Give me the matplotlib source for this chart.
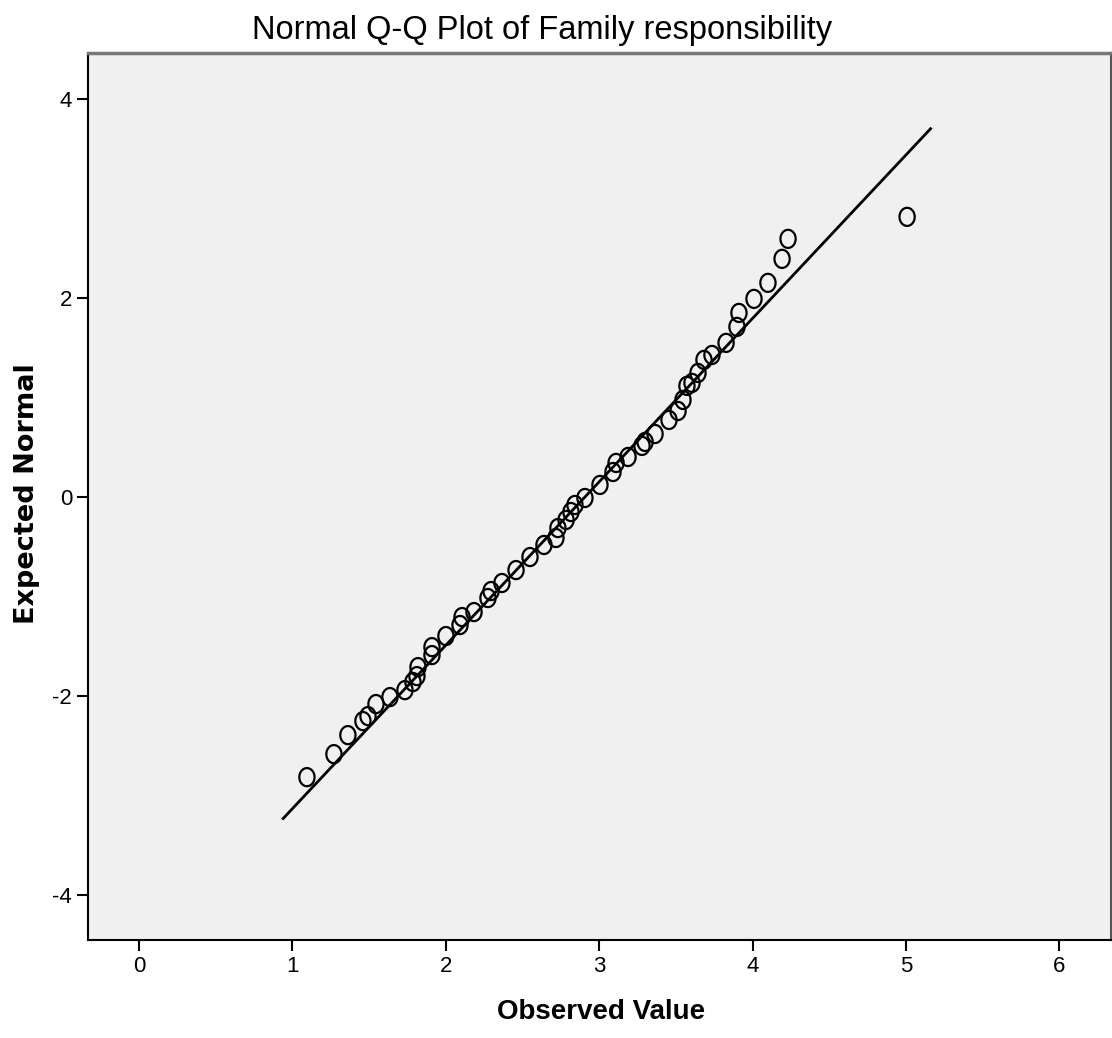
import numpy as np
import matplotlib
matplotlib.use('Agg')
import matplotlib.pyplot as plt
from matplotlib.path import Path
from matplotlib import font_manager

observed = [1.095, 1.271, 1.362, 1.460, 1.493, 1.545, 1.636, 1.734, 1.786, 1.812,
            1.819, 1.910, 1.910, 2.001, 2.093, 2.106, 2.184, 2.275, 2.295, 2.366,
            2.458, 2.549, 2.640, 2.718, 2.731, 2.784, 2.816, 2.842, 2.907, 3.005,
            3.090, 3.110, 3.188, 3.279, 3.299, 3.364, 3.455, 3.514, 3.546, 3.572,
            3.605, 3.644, 3.683, 3.735, 3.827, 3.898, 3.911, 4.009, 4.100, 4.192,
            4.231, 5.007]
expected = [-2.814, -2.583, -2.392, -2.251, -2.201, -2.080, -2.010, -1.940, -1.859, -1.799,
            -1.709, -1.588, -1.508, -1.397, -1.286, -1.206, -1.156, -1.015, -0.945, -0.864,
            -0.734, -0.603, -0.482, -0.412, -0.312, -0.231, -0.151, -0.080, -0.010, 0.121,
            0.251, 0.342, 0.402, 0.513, 0.553, 0.633, 0.774, 0.864, 0.975, 1.116,
            1.146, 1.246, 1.377, 1.427, 1.548, 1.709, 1.849, 1.990, 2.151, 2.392,
            2.593, 2.814]

# reference line: y = (x - mean) / sd over the drawn range
line_mean = 2.907
line_sd = 0.609
line_x = [0.94, 5.16]

x_ticks = [0, 1, 2, 3, 4, 5, 6]
y_ticks = [-4, -2, 0, 2, 4]

plt.rcParams['axes.unicode_minus'] = False
names = {f.name for f in font_manager.fontManager.ttflist}
narrow = 'Liberation Sans Narrow' if 'Liberation Sans Narrow' in names else 'Liberation Sans'

fig = plt.figure(figsize=(11.12, 10.38), dpi=100)
ax = fig.add_axes([88 / 1112, 1 - 940 / 1038, (1111 - 88) / 1112, (940 - 53) / 1038])
ax.set_facecolor('#f0f0f0')

# slightly tall ellipse marker, like the squeezed original
t = np.linspace(0, 2 * np.pi, 60)
ell = Path(np.column_stack([0.84 * np.cos(t), np.sin(t)]), closed=True)

ax.scatter(observed, expected, marker=ell, s=170, facecolors='none',
           edgecolors='black', linewidths=1.6, zorder=3)

lx = np.array(line_x)
ax.plot(lx, (lx - line_mean) / line_sd, color='black', lw=2, zorder=2)

ax.set_xlim(-0.332, 6.336)
ax.set_ylim(-4.45, 4.46)
ax.set_xticks(x_ticks)
ax.set_yticks(y_ticks)
ax.tick_params(direction='out', length=8, width=1.5, colors='black', labelsize=16)
for lab in ax.get_xticklabels() + ax.get_yticklabels():
    lab.set_family(narrow)

for side in ['left', 'bottom']:
    ax.spines[side].set_linewidth(1.5)
    ax.spines[side].set_color('black')
ax.spines['top'].set_color('#777777')
ax.spines['top'].set_linewidth(2.5)
ax.spines['right'].set_color('#555555')
ax.spines['right'].set_linewidth(1.5)

fig.text(542 / 1112, 1 - 30 / 1038, 'Normal Q-Q Plot of Family responsibility',
         ha='center', va='center', fontsize=23.5, family=narrow)
fig.text(601 / 1112, 1 - 1012 / 1038, 'Observed Value', ha='center', va='center',
         fontsize=20, fontweight='bold', family=narrow)
fig.text(27 / 1112, 1 - 494 / 1038, 'Expected Normal', ha='center', va='center',
         rotation=90, fontsize=19.5, fontweight='bold', family='DejaVu Sans')

fig.savefig('out.png', dpi=100)
